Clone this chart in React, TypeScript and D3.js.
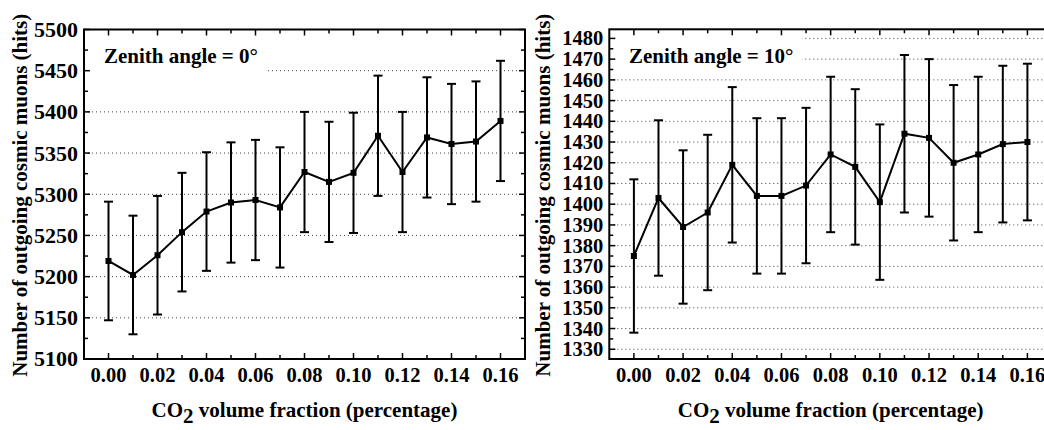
import React from "react";
import * as d3 from "d3";

const co2Fractions = [0.0, 0.01, 0.02, 0.03, 0.04, 0.05, 0.06, 0.07, 0.08, 0.09, 0.1, 0.11, 0.12, 0.13, 0.14, 0.15, 0.16];
const hits0 = [5219, 5202, 5226, 5254, 5279, 5290, 5293, 5284, 5327, 5315, 5326, 5371, 5327, 5369, 5361, 5364, 5389];
const err0 = [72, 72, 72, 72, 72, 73, 73, 73, 73, 73, 73, 73, 73, 73, 73, 73, 73];
const hits10 = [1375, 1403, 1389, 1396, 1419, 1404, 1404, 1409, 1424, 1418, 1401, 1434, 1432, 1420, 1424, 1429, 1430];
const err10 = [37, 37.5, 37, 37.5, 37.5, 37.5, 37.5, 37.5, 37.5, 37.5, 37.5, 38, 38, 37.5, 37.5, 37.8, 37.8];
const xTickLabels = ["0.00", "0.02", "0.04", "0.06", "0.08", "0.10", "0.12", "0.14", "0.16"];
const yTicks0 = [5100, 5150, 5200, 5250, 5300, 5350, 5400, 5450, 5500];
const yTicks10 = [1330, 1340, 1350, 1360, 1370, 1380, 1390, 1400, 1410, 1420, 1430, 1440, 1450, 1460, 1470, 1480];
const grid0 = [5150, 5200, 5250, 5300, 5350, 5400, 5450];
const grid10 = [1330, 1340, 1350, 1360, 1370, 1380, 1390, 1400, 1410, 1420, 1430, 1440, 1450, 1460, 1470, 1480];

const FONT = "'Liberation Serif', 'Times New Roman', serif";

type PanelProps = {
  left: number; right: number; top: number; bottom: number;
  yDomain: [number, number];
  values: number[]; errs: number[];
  yTicks: number[]; yMinorStep: number; grid: number[];
  label: string; labelBox: [number, number, number, number];
  titleX: number; yFont: number;
};

function Panel(p: PanelProps) {
  const x = d3.scaleLinear().domain([-0.01, 0.17]).range([p.left, p.right]);
  const y = d3.scaleLinear().domain(p.yDomain).range([p.bottom, p.top]);
  const xMinor = d3.range(0, 17).map((i) => i / 100);
  const yMinor: number[] = [];
  for (let v = Math.ceil(p.yDomain[0] / p.yMinorStep) * p.yMinorStep; v <= p.yDomain[1]; v += p.yMinorStep) yMinor.push(v);
  const line = d3.line<number>().x((_, i) => x(co2Fractions[i])).y((d) => y(d));
  const W = p.right - p.left;
  const H = p.bottom - p.top;
  const cy = (p.top + p.bottom) / 2 + 1;
  return (
    <g>
      {p.grid.map((g) => (
        <line key={"g" + g} x1={p.left} x2={p.right} y1={y(g)} y2={y(g)} stroke="#444" strokeWidth={1} strokeDasharray="1,3" />
      ))}
      <rect x={p.labelBox[0]} y={p.labelBox[1]} width={p.labelBox[2]} height={p.labelBox[3]} fill="#fff" />
      <text x={p.labelBox[0] + 19} y={63} fontFamily={FONT} fontWeight="bold" fontSize={21}>{p.label}</text>
      {xMinor.map((v, i) => {
        const len = i % 2 === 0 ? 6 : 4;
        return (
          <g key={"xt" + i}>
            <line x1={x(v)} x2={x(v)} y1={p.bottom} y2={p.bottom - len} stroke="#000" strokeWidth={1.5} />
            <line x1={x(v)} x2={x(v)} y1={p.top} y2={p.top + len} stroke="#000" strokeWidth={1.5} />
          </g>
        );
      })}
      {yMinor.map((v, i) => {
        const major = p.yTicks.includes(v);
        const len = major ? 6 : 4;
        return (
          <g key={"yt" + i}>
            <line x1={p.left} x2={p.left + len} y1={y(v)} y2={y(v)} stroke="#000" strokeWidth={1.5} />
            <line x1={p.right} x2={p.right - len} y1={y(v)} y2={y(v)} stroke="#000" strokeWidth={1.5} />
          </g>
        );
      })}
      <rect x={p.left} y={p.top} width={W} height={H} fill="none" stroke="#000" strokeWidth={2} />
      {xTickLabels.map((t) => (
        <text key={"xl" + t} x={x(+t)} y={p.bottom + 23} textAnchor="middle" fontFamily={FONT} fontWeight="bold" fontSize={20.5}>{t}</text>
      ))}
      {p.yTicks.map((t) => (
        <text key={"yl" + t} x={p.left - 6} y={y(t) + p.yFont * 0.34} textAnchor="end" fontFamily={FONT} fontWeight="bold" fontSize={p.yFont}>{t}</text>
      ))}
      <path d={line(p.values) || ""} fill="none" stroke="#000" strokeWidth={2} />
      {p.values.map((v, i) => {
        const xi = x(co2Fractions[i]);
        const hi = y(v + p.errs[i]);
        const lo = y(v - p.errs[i]);
        return (
          <g key={"e" + i}>
            <line x1={xi} x2={xi} y1={hi} y2={lo} stroke="#000" strokeWidth={2} />
            <line x1={xi - 4.5} x2={xi + 4.5} y1={hi} y2={hi} stroke="#000" strokeWidth={2} />
            <line x1={xi - 4.5} x2={xi + 4.5} y1={lo} y2={lo} stroke="#000" strokeWidth={2} />
            <rect x={xi - 3} y={y(v) - 3} width={6} height={6} fill="#000" />
          </g>
        );
      })}
      <text x={p.titleX} y={cy} transform={`rotate(-90, ${p.titleX}, ${cy})`} textAnchor="middle" dominantBaseline="central" fontFamily={FONT} fontWeight="bold" fontSize={21}>
        Number of outgoing cosmic muons (hits)
      </text>
      <text x={(p.left + Math.min(p.right, 1052)) / 2} y={417} textAnchor="middle" fontFamily={FONT} fontWeight="bold" fontSize={21}>
        CO<tspan dy={6}>2</tspan><tspan dy={-6}> volume fraction (percentage)</tspan>
      </text>
    </g>
  );
}

export default function App() {
  return (
    <svg width={1044} height={430} style={{ position: "absolute", left: 0, top: 0, background: "#fff" }}>
      <rect x={0} y={0} width={1044} height={430} fill="#fff" />
      <Panel left={84} right={525} top={29.5} bottom={359} yDomain={[5100, 5500]}
        values={hits0} errs={err0} yTicks={yTicks0} yMinorStep={25} grid={grid0}
        label="Zenith angle = 0°" labelBox={[85, 31, 181, 55]} titleX={20} yFont={22} />
      <Panel left={609.3} right={1052} top={29.3} bottom={359} yDomain={[1325.3, 1484.4]}
        values={hits10} errs={err10} yTicks={yTicks10} yMinorStep={5} grid={grid10}
        label="Zenith angle = 10°" labelBox={[610, 31, 192, 40]} titleX={543} yFont={20.5} />
    </svg>
  );
}
